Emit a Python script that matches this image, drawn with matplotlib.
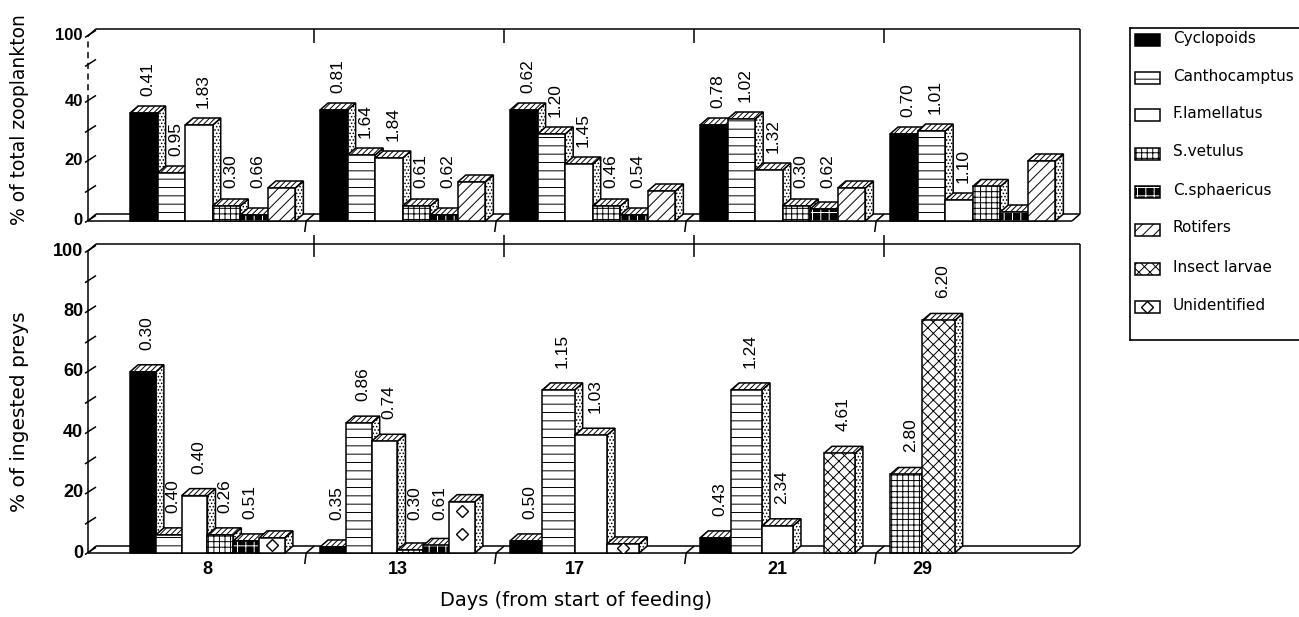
import numpy as np
import matplotlib
matplotlib.use("Agg")
import matplotlib.pyplot as plt
from matplotlib.patches import Polygon

nan = np.nan

# ---------------------------------------------------------------- data
days = ["8", "13", "17", "21", "29"]
categories = ["Cyclopoids", "Canthocamptus", "F.lamellatus", "S.vetulus",
              "C.sphaericus", "Rotifers", "Insect larvae", "Unidentified"]

# % of total zooplankton (NaN = taxon not shown that day)
zoo_cyclopoids = [36, 37, 37, 32, 29]
zoo_canthocamptus = [16, 22, 29, 34, 30]
zoo_flamellatus = [32, 21, 19, 17, 7]
zoo_svetulus = [5, 5, 5, 5, 11.5]
zoo_csphaericus = [2, 2, 2, 4, 3]
zoo_rotifers = [11, 13, 10, 11, 20]
zoo_insect = [nan, nan, nan, nan, nan]
zoo_unidentified = [nan, nan, nan, nan, nan]

zoo_lab_cyclopoids = ["0.41", "0.81", "0.62", "0.78", "0.70"]
zoo_lab_canthocamptus = ["0.95", "1.64", "1.20", "1.02", "1.01"]
zoo_lab_flamellatus = ["1.83", "1.84", "1.45", "1.32", "1.10"]
zoo_lab_svetulus = ["0.30", "0.61", "0.46", "0.30", ""]
zoo_lab_csphaericus = ["0.66", "0.62", "0.54", "0.62", ""]
zoo_lab_none = ["", "", "", "", ""]

# % of ingested preys (0 = slot kept empty)
prey_cyclopoids = [60, 2, 4, 5, nan]
prey_canthocamptus = [6, 43, 54, 54, nan]
prey_flamellatus = [19, 37, 39, 9, nan]
prey_svetulus = [6, 1, nan, 0, 26]
prey_csphaericus = [4, 2.5, nan, nan, nan]
prey_rotifers = [nan, nan, nan, nan, nan]
prey_insect = [nan, nan, nan, 33, 77]
prey_unidentified = [5, 17, 3, nan, nan]

prey_lab_cyclopoids = ["0.30", "0.35", "0.50", "0.43", ""]
prey_lab_canthocamptus = ["0.40", "0.86", "1.15", "1.24", ""]
prey_lab_flamellatus = ["0.40", "0.74", "1.03", "2.34", ""]
prey_lab_svetulus = ["0.26", "0.30", "", "", "2.80"]
prey_lab_csphaericus = ["0.51", "0.61", "", "", ""]
prey_lab_insect = ["", "", "", "4.61", "6.20"]
prey_lab_none = ["", "", "", "", ""]

zoo_ticks = [0, 20, 40]
zoo_ticklabels = ["0", "20", "40", "100"]
prey_ticks = [0, 20, 40, 60, 80, 100]
prey_ticklabels = ["0", "20", "40", "60", "80", "100"]

zoo_series = [zoo_cyclopoids, zoo_canthocamptus, zoo_flamellatus, zoo_svetulus,
              zoo_csphaericus, zoo_rotifers, zoo_insect, zoo_unidentified]
zoo_labels = [zoo_lab_cyclopoids, zoo_lab_canthocamptus, zoo_lab_flamellatus,
              zoo_lab_svetulus, zoo_lab_csphaericus, zoo_lab_none, zoo_lab_none,
              zoo_lab_none]
prey_series = [prey_cyclopoids, prey_canthocamptus, prey_flamellatus, prey_svetulus,
               prey_csphaericus, prey_rotifers, prey_insect, prey_unidentified]
prey_labels = [prey_lab_cyclopoids, prey_lab_canthocamptus, prey_lab_flamellatus,
               prey_lab_svetulus, prey_lab_csphaericus, prey_lab_none,
               prey_lab_insect, prey_lab_none]

# ---------------------------------------------------------------- styles
# (face colour, hatch, hatch colour)
STYLES = {
    "Cyclopoids": ("black", None, "black"),
    "Canthocamptus": ("white", "--", "black"),
    "F.lamellatus": ("white", None, "black"),
    "S.vetulus": ("white", "+++", "black"),
    "C.sphaericus": ("black", "++", "white"),
    "Rotifers": ("white", "///", "black"),
    "Insect larvae": ("white", "xxx", "black"),
    "Unidentified": ("white", None, "black"),
}
TOP_HATCH = "//////"
SIDE_HATCH = "....."
LW = 1.1
LABEL_FONT = ["Liberation Sans", "DejaVu Sans"]
TICK_FONT = ["Liberation Sans Narrow", "Liberation Sans", "DejaVu Sans"]
TITLE_FONT = ["DejaVu Sans"]

plt.rcParams["hatch.linewidth"] = 0.7

W, H = 1299, 617
fig = plt.figure(figsize=(W / 100, H / 100), dpi=100)
fig.patch.set_facecolor("white")

GX0 = 215.0      # pixel column of the first day group
GPX = 190.0      # pixels per day group
XMIN, XMAX = -0.72, 4.62
XL = (88 - GX0) / GPX
XR = (1072 - GX0) / GPX
DEPTH_X_PX, DEPTH_Y_PX = 8.0, 7.0
DX = DEPTH_X_PX / GPX
PX = 1.0 / GPX


def make_panel(baseline_px, ppu, ymax):
    left = GX0 + XMIN * GPX
    width = (XMAX - XMIN) * GPX
    height = ymax * ppu
    ax = fig.add_axes([left / W, (H - baseline_px) / H, width / W, height / H])
    ax.set_xlim(XMIN, XMAX)
    ax.set_ylim(0, ymax)
    ax.axis("off")
    return ax


def line(ax, xs, ys, **extra):
    kw = dict(color="black", lw=LW, clip_on=False, solid_capstyle="butt")
    kw.update(extra)
    ax.plot(xs, ys, **kw)


def draw_frame(ax, ppu, axis_top, solid_top, tick_pos, ticklabels,
               minor, tick_size, sep_up, sep_down):
    dy = DEPTH_Y_PX / ppu
    wall_top = axis_top + dy
    # floor
    line(ax, [XL, XR], [0, 0])
    line(ax, [XL + DX, XR + DX], [dy, dy])
    line(ax, [XL, XL + DX], [0, dy])
    line(ax, [XR, XR + DX], [0, dy])
    # back wall
    line(ax, [XL + DX, XR + DX], [wall_top, wall_top])
    line(ax, [XR + DX, XR + DX], [dy, wall_top])
    # value axis
    line(ax, [XL, XL], [0, solid_top])
    if solid_top < axis_top:
        line(ax, [XL, XL], [solid_top, axis_top], ls=(0, (4, 3)))
    line(ax, [XL, XL + DX], [axis_top, wall_top])
    for v in list(tick_pos) + list(minor):
        line(ax, [XL - 3 * PX, XL + DX], [v - 1.5 / ppu, v + dy * 0.8])
    for v, s in zip(tick_pos, ticklabels):
        ax.text(XL - 5 * PX, v, s, ha="right", va="center", fontsize=tick_size,
                fontweight="bold", family=TICK_FONT, clip_on=False)
    # day separators
    for g in range(len(days) - 1):
        s = g + 0.48
        line(ax, [s + DX, s + DX], [wall_top + sep_up / ppu, wall_top - sep_down / ppu])
        line(ax, [s + DX, s, s - 1.5 * PX], [dy, 0, -11 / ppu])


def poly(ax, pts, face, hatch, hcolor, z):
    if face == "black" and hatch:
        ax.add_patch(Polygon(pts, closed=True, facecolor="black", edgecolor=hcolor,
                             hatch=hatch, lw=0, clip_on=False, zorder=z))
        p = Polygon(pts, closed=True, fill=False, edgecolor="black", lw=LW,
                    clip_on=False, zorder=z)
    else:
        p = Polygon(pts, closed=True, facecolor=face, edgecolor="black",
                    hatch=hatch, lw=LW, clip_on=False, zorder=z)
    ax.add_patch(p)
    return p


def draw_bar(ax, x, w, h, cat, ppu, z):
    dy = DEPTH_Y_PX / ppu
    face, hatch, hcolor = STYLES[cat]
    side = [(x + w, 0), (x + w + DX, dy), (x + w + DX, h + dy), (x + w, h)]
    top = [(x, h), (x + w, h), (x + w + DX, h + dy), (x + DX, h + dy)]
    front = [(x, 0), (x + w, 0), (x + w, h), (x, h)]
    poly(ax, side, "white", SIDE_HATCH, "black", z)
    poly(ax, top, "white", TOP_HATCH, "black", z)
    fp = poly(ax, front, face, hatch, hcolor, z + 0.001)
    if cat == "Unidentified":
        step = 23.0 / ppu
        if h * ppu < 30:
            ys = [h / 2]
        else:
            ys = list(np.arange(h - 9.0 / ppu, 0, -step))
        lns = ax.plot([x + w / 2] * len(ys), ys, ls="none", marker="D", ms=6,
                      mfc="white", mec="black", mew=1.0, zorder=z + 0.002)
        for ln in lns:
            ln.set_clip_path(fp)


def draw_bars(ax, series, labels, ppu, span, wmax, gap_px, min_label):
    dy = DEPTH_Y_PX / ppu
    centers = []
    z = 3.0
    for g in range(len(days)):
        present = [(categories[c], series[c][g], labels[c][g])
                   for c in range(len(categories)) if not np.isnan(series[c][g])]
        n = len(present)
        w = min(span / n, wmax)
        x0 = g - 0.447
        for i, (cat, v, lab) in enumerate(present):
            x = x0 + i * w
            if v > 0:
                draw_bar(ax, x, w, v, cat, ppu, z)
            z += 0.01
            if lab:
                ax.text(x + (w + DX) / 2, max(v + dy + gap_px / ppu, min_label), lab,
                        rotation=90, ha="center", va="bottom", fontsize=12.5,
                        family=LABEL_FONT, clip_on=False, zorder=20)
        centers.append(x0 + n * w / 2)
    return centers


# ---------------------------------------------------------------- top panel
TOP_PPU = 3.0
ax1 = make_panel(221, TOP_PPU, 66)
draw_frame(ax1, TOP_PPU, axis_top=61.7, solid_top=40,
           tick_pos=zoo_ticks + [61.7], ticklabels=zoo_ticklabels,
           minor=[10, 30, 52], tick_size=12, sep_up=0, sep_down=14)
draw_bars(ax1, zoo_series, zoo_labels, TOP_PPU, span=0.87, wmax=0.17,
          gap_px=10, min_label=11)

# ---------------------------------------------------------------- bottom panel
BOT_PPU = 3.02
ax2 = make_panel(553, BOT_PPU, 104)
draw_frame(ax2, BOT_PPU, axis_top=100, solid_top=100,
           tick_pos=prey_ticks, ticklabels=prey_ticklabels,
           minor=[10, 30, 50, 70, 90], tick_size=13, sep_up=9, sep_down=13)
centers = draw_bars(ax2, prey_series, prey_labels, BOT_PPU, span=0.815, wmax=0.17,
                    gap_px=15, min_label=11)
for cx, d in zip(centers, days):
    ax2.text(cx, -8 / BOT_PPU, d, ha="center", va="top", fontsize=13,
             fontweight="bold", family=TICK_FONT, clip_on=False)

# ---------------------------------------------------------------- titles & legend (pixel space)
ov = fig.add_axes([0, 0, 1, 1])
ov.set_xlim(0, W)
ov.set_ylim(H, 0)
ov.axis("off")
ov.set_zorder(5)

ov.text(20, 120, "% of total zooplankton", rotation=90, ha="center", va="center",
        fontsize=13.5, family=TITLE_FONT)
ov.text(20, 412, "% of ingested preys", rotation=90, ha="center", va="center",
        fontsize=14.5, family=TITLE_FONT)
ov.text(576, 600, "Days (from start of feeding)", ha="center", va="center",
        fontsize=14, family=TITLE_FONT)

kw = dict(color="black", lw=1.2, clip_on=False)
ov.plot([1130, W], [28, 28], **kw)
ov.plot([1130, 1130], [28, 340], **kw)
ov.plot([1130, W], [340, 340], **kw)

legend_rows = [38, 76, 113, 152, 190, 228, 267, 305]
for cat, yc in zip(categories, legend_rows):
    face, hatch, hcolor = STYLES[cat]
    pts = [(1135, yc - 4), (1160, yc - 4), (1160, yc + 8), (1135, yc + 8)]
    poly(ov, pts, face, hatch, hcolor, 6)
    if cat == "Unidentified":
        ov.plot([1147.5], [yc + 2], ls="none", marker="D", ms=6, mfc="white",
                mec="black", mew=1.0, zorder=7)
    ov.text(1173, yc, cat, ha="left", va="center", fontsize=11, family=TITLE_FONT)

fig.savefig("out.png", dpi=100, facecolor="white")
